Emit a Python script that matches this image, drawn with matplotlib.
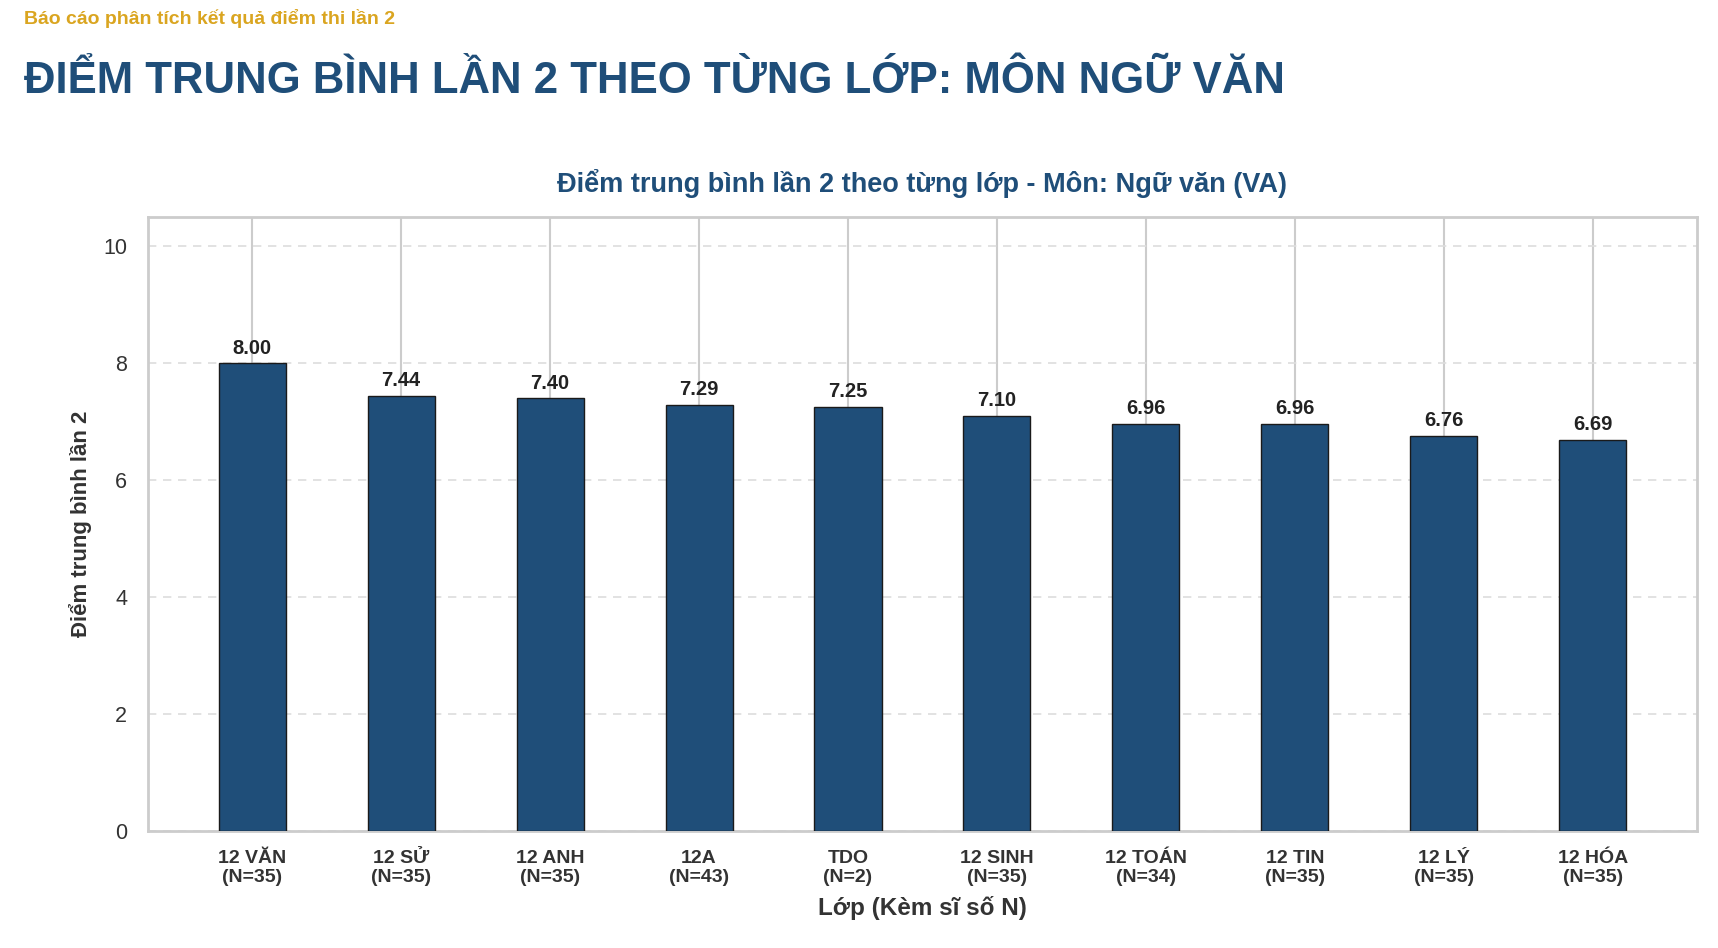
import matplotlib
matplotlib.use('Agg')
import matplotlib.pyplot as plt
import numpy as np

plt.rcParams['font.family'] = ['Liberation Sans', 'DejaVu Sans']

# du lieu
lop = ["12 VĂN", "12 SỬ", "12 ANH", "12A", "TDO", "12 SINH", "12 TOÁN", "12 TIN", "12 LÝ", "12 HÓA"]
si_so = [35, 35, 35, 43, 2, 35, 34, 35, 35, 35]
diem_tb = [8.00, 7.44, 7.40, 7.29, 7.25, 7.10, 6.96, 6.96, 6.76, 6.69]

MAU_CHINH = "#1f4e79"
MAU_PHU = "#daa520"

fig = plt.figure(figsize=(17.18, 9.48), dpi=100)
ax = fig.add_axes([0.0861, 0.1234, 0.9017, 0.6477])

x = np.arange(len(lop))
bars = ax.bar(x, diem_tb, width=0.45, color=MAU_CHINH, edgecolor="#1a1a1a", linewidth=1, zorder=3)

for b, v in zip(bars, diem_tb):
    ax.annotate("%.2f" % v, (b.get_x() + b.get_width() / 2, v), xytext=(0, 4),
                textcoords="offset points", ha="center", va="bottom",
                fontsize=14.5, fontweight="bold", color="#222222")

ax.set_xlim(-0.7, len(lop) - 0.3)
ax.set_ylim(0, 10.5)
ax.set_yticks([0, 2, 4, 6, 8, 10])
ax.set_xticks(x)
ax.set_xticklabels(["%s\n(N=%d)" % (l, n) for l, n in zip(lop, si_so)],
                   fontsize=14, fontweight="bold", color="#333333", linespacing=1.12)
ax.tick_params(axis="y", labelsize=15.5, labelcolor="#333333", length=0, pad=15)
ax.tick_params(axis="x", length=0, pad=14)

ax.xaxis.grid(True, color="#cccccc", linewidth=1.5, zorder=0)
ax.yaxis.grid(True, color="#dddddd", linewidth=1.2, linestyle=(0, (5, 4)), zorder=0)
ax.set_axisbelow(True)
for s in ax.spines.values():
    s.set_color("#cccccc")
    s.set_linewidth(2)

ax.set_xlabel("Lớp (Kèm sĩ số N)", fontsize=17.5, fontweight="bold", color="#333333", labelpad=7)
ax.set_ylabel("Điểm trung bình lần 2", fontsize=16, fontweight="bold", color="#333333", labelpad=8)
ax.set_title("Điểm trung bình lần 2 theo từng lớp - Môn: Ngữ văn (VA)", fontsize=19.5,
             fontweight="bold", color=MAU_CHINH, pad=18)

fig.text(0.014, 0.99, "Báo cáo phân tích kết quả điểm thi lần 2", fontsize=14,
         fontweight="bold", color=MAU_PHU, ha="left", va="top")
fig.text(0.014, 0.914, "ĐIỂM TRUNG BÌNH LẦN 2 THEO TỪNG LỚP: MÔN NGỮ VĂN", fontsize=31.5,
         fontweight="bold", color=MAU_CHINH, ha="left", va="center")

fig.savefig("out.png", dpi=100)
